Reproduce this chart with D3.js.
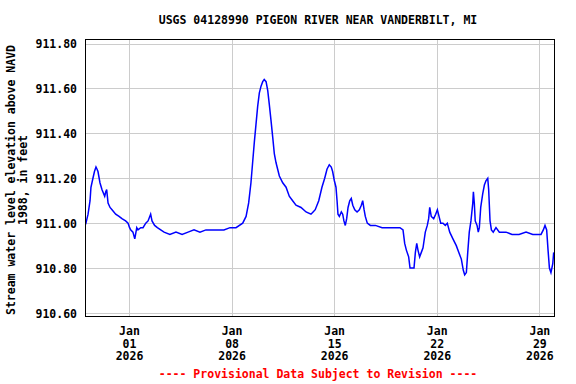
<!DOCTYPE html>
<html>
<head>
<meta charset="utf-8">
<script src="https://cdn.jsdelivr.net/npm/d3@7"></script>
<style>
  body { margin: 0; background: #fff; }
  text { font-family: "DejaVu Sans Mono", "Liberation Mono", monospace; font-weight: bold; font-size: 11.5px; }
</style>
</head>
<body>
<svg id="chart" width="576" height="384"></svg>
<script>

// gage readings
var readingTimes = [
  "2025-12-29 00:00","2025-12-29 01:30","2025-12-29 05:00","2025-12-29 08:15","2025-12-29 09:45","2025-12-29 13:00","2025-12-29 15:30","2025-12-29 18:00","2025-12-29 19:45","2025-12-29 21:15",
  "2025-12-30 00:30","2025-12-30 03:45","2025-12-30 08:15","2025-12-30 10:00","2025-12-30 11:30","2025-12-30 13:45","2025-12-30 17:00","2025-12-30 20:15",
  "2025-12-31 02:15","2025-12-31 07:45","2025-12-31 12:30","2025-12-31 18:30","2025-12-31 22:30",
  "2026-01-01 01:00","2026-01-01 02:45","2026-01-01 06:30","2026-01-01 09:30","2026-01-01 12:45","2026-01-01 14:45","2026-01-01 19:15","2026-01-01 23:00",
  "2026-01-02 03:30","2026-01-02 07:15","2026-01-02 11:30","2026-01-02 13:45","2026-01-02 18:00","2026-01-02 22:30",
  "2026-01-03 04:00","2026-01-03 09:30","2026-01-03 19:00",
  "2026-01-04 05:00","2026-01-04 15:00",
  "2026-01-05 00:45","2026-01-05 10:30","2026-01-05 20:15",
  "2026-01-06 06:00","2026-01-06 16:00",
  "2026-01-07 01:45","2026-01-07 11:30","2026-01-07 21:30",
  "2026-01-08 07:15","2026-01-08 18:15","2026-01-08 23:45",
  "2026-01-09 04:00","2026-01-09 07:45","2026-01-09 10:30","2026-01-09 13:15","2026-01-09 16:00","2026-01-09 18:45","2026-01-09 21:30",
  "2026-01-10 00:15","2026-01-10 03:00","2026-01-10 05:30","2026-01-10 08:30","2026-01-10 11:15","2026-01-10 13:45","2026-01-10 16:30","2026-01-10 19:30","2026-01-10 22:00",
  "2026-01-11 00:45","2026-01-11 03:30","2026-01-11 06:15","2026-01-11 11:45","2026-01-11 17:15","2026-01-11 22:30",
  "2026-01-12 04:00","2026-01-12 09:30","2026-01-12 17:45",
  "2026-01-13 02:00","2026-01-13 10:00","2026-01-13 13:30","2026-01-13 17:00","2026-01-13 22:45",
  "2026-01-14 04:00","2026-01-14 08:30","2026-01-14 12:15","2026-01-14 16:00","2026-01-14 19:15","2026-01-14 21:30",
  "2026-01-15 00:15","2026-01-15 03:00","2026-01-15 04:45","2026-01-15 06:15","2026-01-15 08:30","2026-01-15 11:45","2026-01-15 14:00","2026-01-15 16:00","2026-01-15 18:15","2026-01-15 20:30","2026-01-15 22:45",
  "2026-01-16 01:30","2026-01-16 04:00","2026-01-16 06:30","2026-01-16 09:45","2026-01-16 13:30","2026-01-16 17:15","2026-01-16 20:30","2026-01-16 22:45",
  "2026-01-17 01:00","2026-01-17 03:00","2026-01-17 06:15","2026-01-17 11:15","2026-01-17 19:30",
  "2026-01-18 06:30","2026-01-18 17:15",
  "2026-01-19 03:15","2026-01-19 11:45","2026-01-19 16:45","2026-01-19 19:30","2026-01-19 22:15",
  "2026-01-20 02:00","2026-01-20 04:15","2026-01-20 06:15","2026-01-20 10:45","2026-01-20 13:00","2026-01-20 15:15","2026-01-20 17:15","2026-01-20 20:00","2026-01-20 22:45",
  "2026-01-21 01:30","2026-01-21 05:15","2026-01-21 08:30","2026-01-21 10:45","2026-01-21 12:30","2026-01-21 15:00","2026-01-21 19:00","2026-01-21 22:15",
  "2026-01-22 01:00","2026-01-22 03:45","2026-01-22 06:30","2026-01-22 10:15","2026-01-22 14:00","2026-01-22 17:15","2026-01-22 21:15",
  "2026-01-23 02:30","2026-01-23 08:00","2026-01-23 12:00","2026-01-23 16:15","2026-01-23 19:30","2026-01-23 21:45",
  "2026-01-24 00:30","2026-01-24 02:45","2026-01-24 05:15","2026-01-24 08:00","2026-01-24 11:00","2026-01-24 12:00","2026-01-24 13:30","2026-01-24 15:00","2026-01-24 18:00","2026-01-24 20:00","2026-01-24 21:45",
  "2026-01-25 00:00","2026-01-25 03:15","2026-01-25 06:00","2026-01-25 08:45","2026-01-25 11:30","2026-01-25 13:00","2026-01-25 15:15","2026-01-25 17:30","2026-01-25 20:30",
  "2026-01-26 01:00","2026-01-26 06:30","2026-01-26 17:30",
  "2026-01-27 03:15","2026-01-27 14:45",
  "2026-01-28 02:15","2026-01-28 13:15","2026-01-28 21:45",
  "2026-01-29 02:45","2026-01-29 06:30","2026-01-29 09:15","2026-01-29 12:00","2026-01-29 14:15","2026-01-29 16:30","2026-01-29 19:00","2026-01-29 22:00","2026-01-29 23:30"
];

var levels = [
  910.99, 911.00, 911.04, 911.10, 911.16, 911.20, 911.23, 911.25, 911.24, 911.23,
  911.18, 911.15, 911.12, 911.14, 911.15, 911.09, 911.07, 911.06,
  911.04, 911.03, 911.02, 911.01, 911.00,
  910.98, 910.97, 910.96, 910.93, 910.98, 910.97, 910.98, 910.98,
  911.00, 911.01, 911.04, 911.01, 910.99, 910.98,
  910.97, 910.96, 910.95,
  910.96, 910.95,
  910.96, 910.97, 910.96,
  910.97, 910.97,
  910.97, 910.97, 910.98,
  910.98, 911.00, 911.03,
  911.09, 911.18, 911.27, 911.36, 911.44, 911.52, 911.58,
  911.61, 911.63, 911.64, 911.63, 911.59, 911.53, 911.46, 911.38, 911.31,
  911.27, 911.24, 911.21, 911.18, 911.16, 911.12,
  911.10, 911.08, 911.07,
  911.05, 911.04, 911.05, 911.06, 911.10,
  911.16, 911.20, 911.24, 911.26, 911.25, 911.23,
  911.19, 911.16, 911.10, 911.04, 911.03, 911.05, 911.04, 911.01, 910.99, 911.02, 911.07,
  911.10, 911.11, 911.08, 911.06, 911.05, 911.06, 911.08, 911.10,
  911.06, 911.03, 911.00, 910.99, 910.99,
  910.98, 910.98,
  910.98, 910.98, 910.97, 910.91, 910.88,
  910.85, 910.80, 910.80, 910.80, 910.87, 910.91, 910.88, 910.85, 910.87,
  910.89, 910.96, 910.99, 911.02, 911.07, 911.03, 911.02, 911.04,
  911.06, 911.03, 911.00, 911.00, 910.99, 911.00, 910.96,
  910.93, 910.90, 910.87, 910.84, 910.79, 910.77,
  910.78, 910.87, 910.96, 911.01, 911.09, 911.14, 911.09, 911.01, 910.99, 910.96, 910.98,
  911.07, 911.13, 911.17, 911.19, 911.20, 911.15, 911.01, 910.97, 910.96,
  910.98, 910.96, 910.96,
  910.95, 910.95,
  910.96, 910.95, 910.95,
  910.95, 910.97, 910.99, 910.97, 910.88, 910.80, 910.78, 910.82, 910.87
];

var periodStart = "2025-12-29 00:00";
var periodEnd = "2026-01-30 00:00";
var tickDates = ["2026-01-01 00:00", "2026-01-08 00:00", "2026-01-15 00:00", "2026-01-22 00:00", "2026-01-29 00:00"];
var levelTicks = [910.6, 910.8, 911.0, 911.2, 911.4, 911.6, 911.8];

var titleText = "USGS 04128990 PIGEON RIVER NEAR VANDERBILT, MI";
var yTitleLines = ["Stream water level elevation above NAVD", "1988, in feet"];
var footerText = "---- Provisional Data Subject to Revision ----";

var parseTime = d3.timeParse("%Y-%m-%d %H:%M");

var box = { left: 85, right: 554, top: 39, bottom: 316 };

var svg = d3.select("#chart");

var x = d3.scaleTime()
  .domain([parseTime(periodStart), parseTime(periodEnd)])
  .range([box.left, box.right]);

var y = d3.scaleLinear()
  .domain([910.6, 911.8])
  .range([313, 43.5]);

var data = readingTimes.map(function(t, i) {
  return { date: parseTime(t), level: levels[i] };
});

svg.append("defs").append("clipPath").attr("id", "plotClip")
  .append("rect")
    .attr("x", box.left).attr("y", box.top)
    .attr("width", box.right - box.left).attr("height", box.bottom - box.top);

// grid
var grid = svg.append("g").attr("stroke", "#cccccc").attr("stroke-width", 1);

grid.selectAll("line.h")
  .data(levelTicks)
  .enter().append("line")
    .attr("class", "h")
    .attr("x1", box.left).attr("x2", box.right)
    .attr("y1", function(d) { return Math.round(y(d)) + 0.5; })
    .attr("y2", function(d) { return Math.round(y(d)) + 0.5; });

grid.selectAll("line.v")
  .data(tickDates)
  .enter().append("line")
    .attr("class", "v")
    .attr("y1", box.top).attr("y2", box.bottom)
    .attr("x1", function(d) { return Math.round(x(parseTime(d))) + 0.5; })
    .attr("x2", function(d) { return Math.round(x(parseTime(d))) + 0.5; });

// the series
var line = d3.line()
  .x(function(d) { return x(d.date); })
  .y(function(d) { return y(d.level); });

svg.append("path")
  .datum(data)
  .attr("clip-path", "url(#plotClip)")
  .attr("fill", "none")
  .attr("stroke", "#0000ff")
  .attr("stroke-width", 1.5)
  .attr("stroke-linejoin", "miter")
  .attr("d", line);

// frame
svg.append("rect")
  .attr("x", box.left + 0.5).attr("y", box.top + 0.5)
  .attr("width", box.right - box.left).attr("height", box.bottom - box.top)
  .attr("fill", "none")
  .attr("stroke", "#000")
  .attr("stroke-width", 1);

// y axis labels
var yAxis = svg.append("g")
  .attr("transform", "translate(" + box.left + ",0)")
  .call(d3.axisLeft(y).tickValues(levelTicks).tickFormat(d3.format(".2f")).tickSize(0).tickPadding(8));
yAxis.select(".domain").remove();
yAxis.selectAll("text")
  .attr("fill", "#000")
  .attr("dy", "0.35em");
yAxis.attr("font-family", null).attr("font-size", null);

// x axis labels, three lines each
var fmtMonth = d3.timeFormat("%b"), fmtDay = d3.timeFormat("%d"), fmtYear = d3.timeFormat("%Y");
var xAxis = svg.append("g")
  .attr("transform", "translate(0," + box.bottom + ")")
  .call(d3.axisBottom(x).tickValues(tickDates.map(parseTime)).tickSize(0).tickFormat(""));
xAxis.select(".domain").remove();
xAxis.attr("font-family", null).attr("font-size", null);
xAxis.selectAll(".tick text").remove();
xAxis.selectAll(".tick").each(function(d) {
  var t = d3.select(this).append("text")
    .attr("text-anchor", "middle")
    .attr("fill", "#000");
  [fmtMonth(d), fmtDay(d), fmtYear(d)].forEach(function(s, i) {
    t.append("tspan").attr("x", 0).attr("y", 19 + i * 12.5).text(s);
  });
});

// titles
svg.append("text")
  .attr("x", 318).attr("y", 24)
  .attr("text-anchor", "middle")
  .text(titleText);

svg.selectAll("text.ytitle")
  .data(yTitleLines)
  .enter().append("text")
    .attr("class", "ytitle")
    .attr("text-anchor", "middle")
    .attr("transform", function(d, i) { return "translate(" + (15 + i * 12) + ",180) rotate(-90)"; })
    .text(function(d) { return d; });

svg.append("text")
  .attr("x", 318).attr("y", 378)
  .attr("text-anchor", "middle")
  .attr("fill", "#ff0000")
  .text(footerText);

</script>
</body>
</html>
